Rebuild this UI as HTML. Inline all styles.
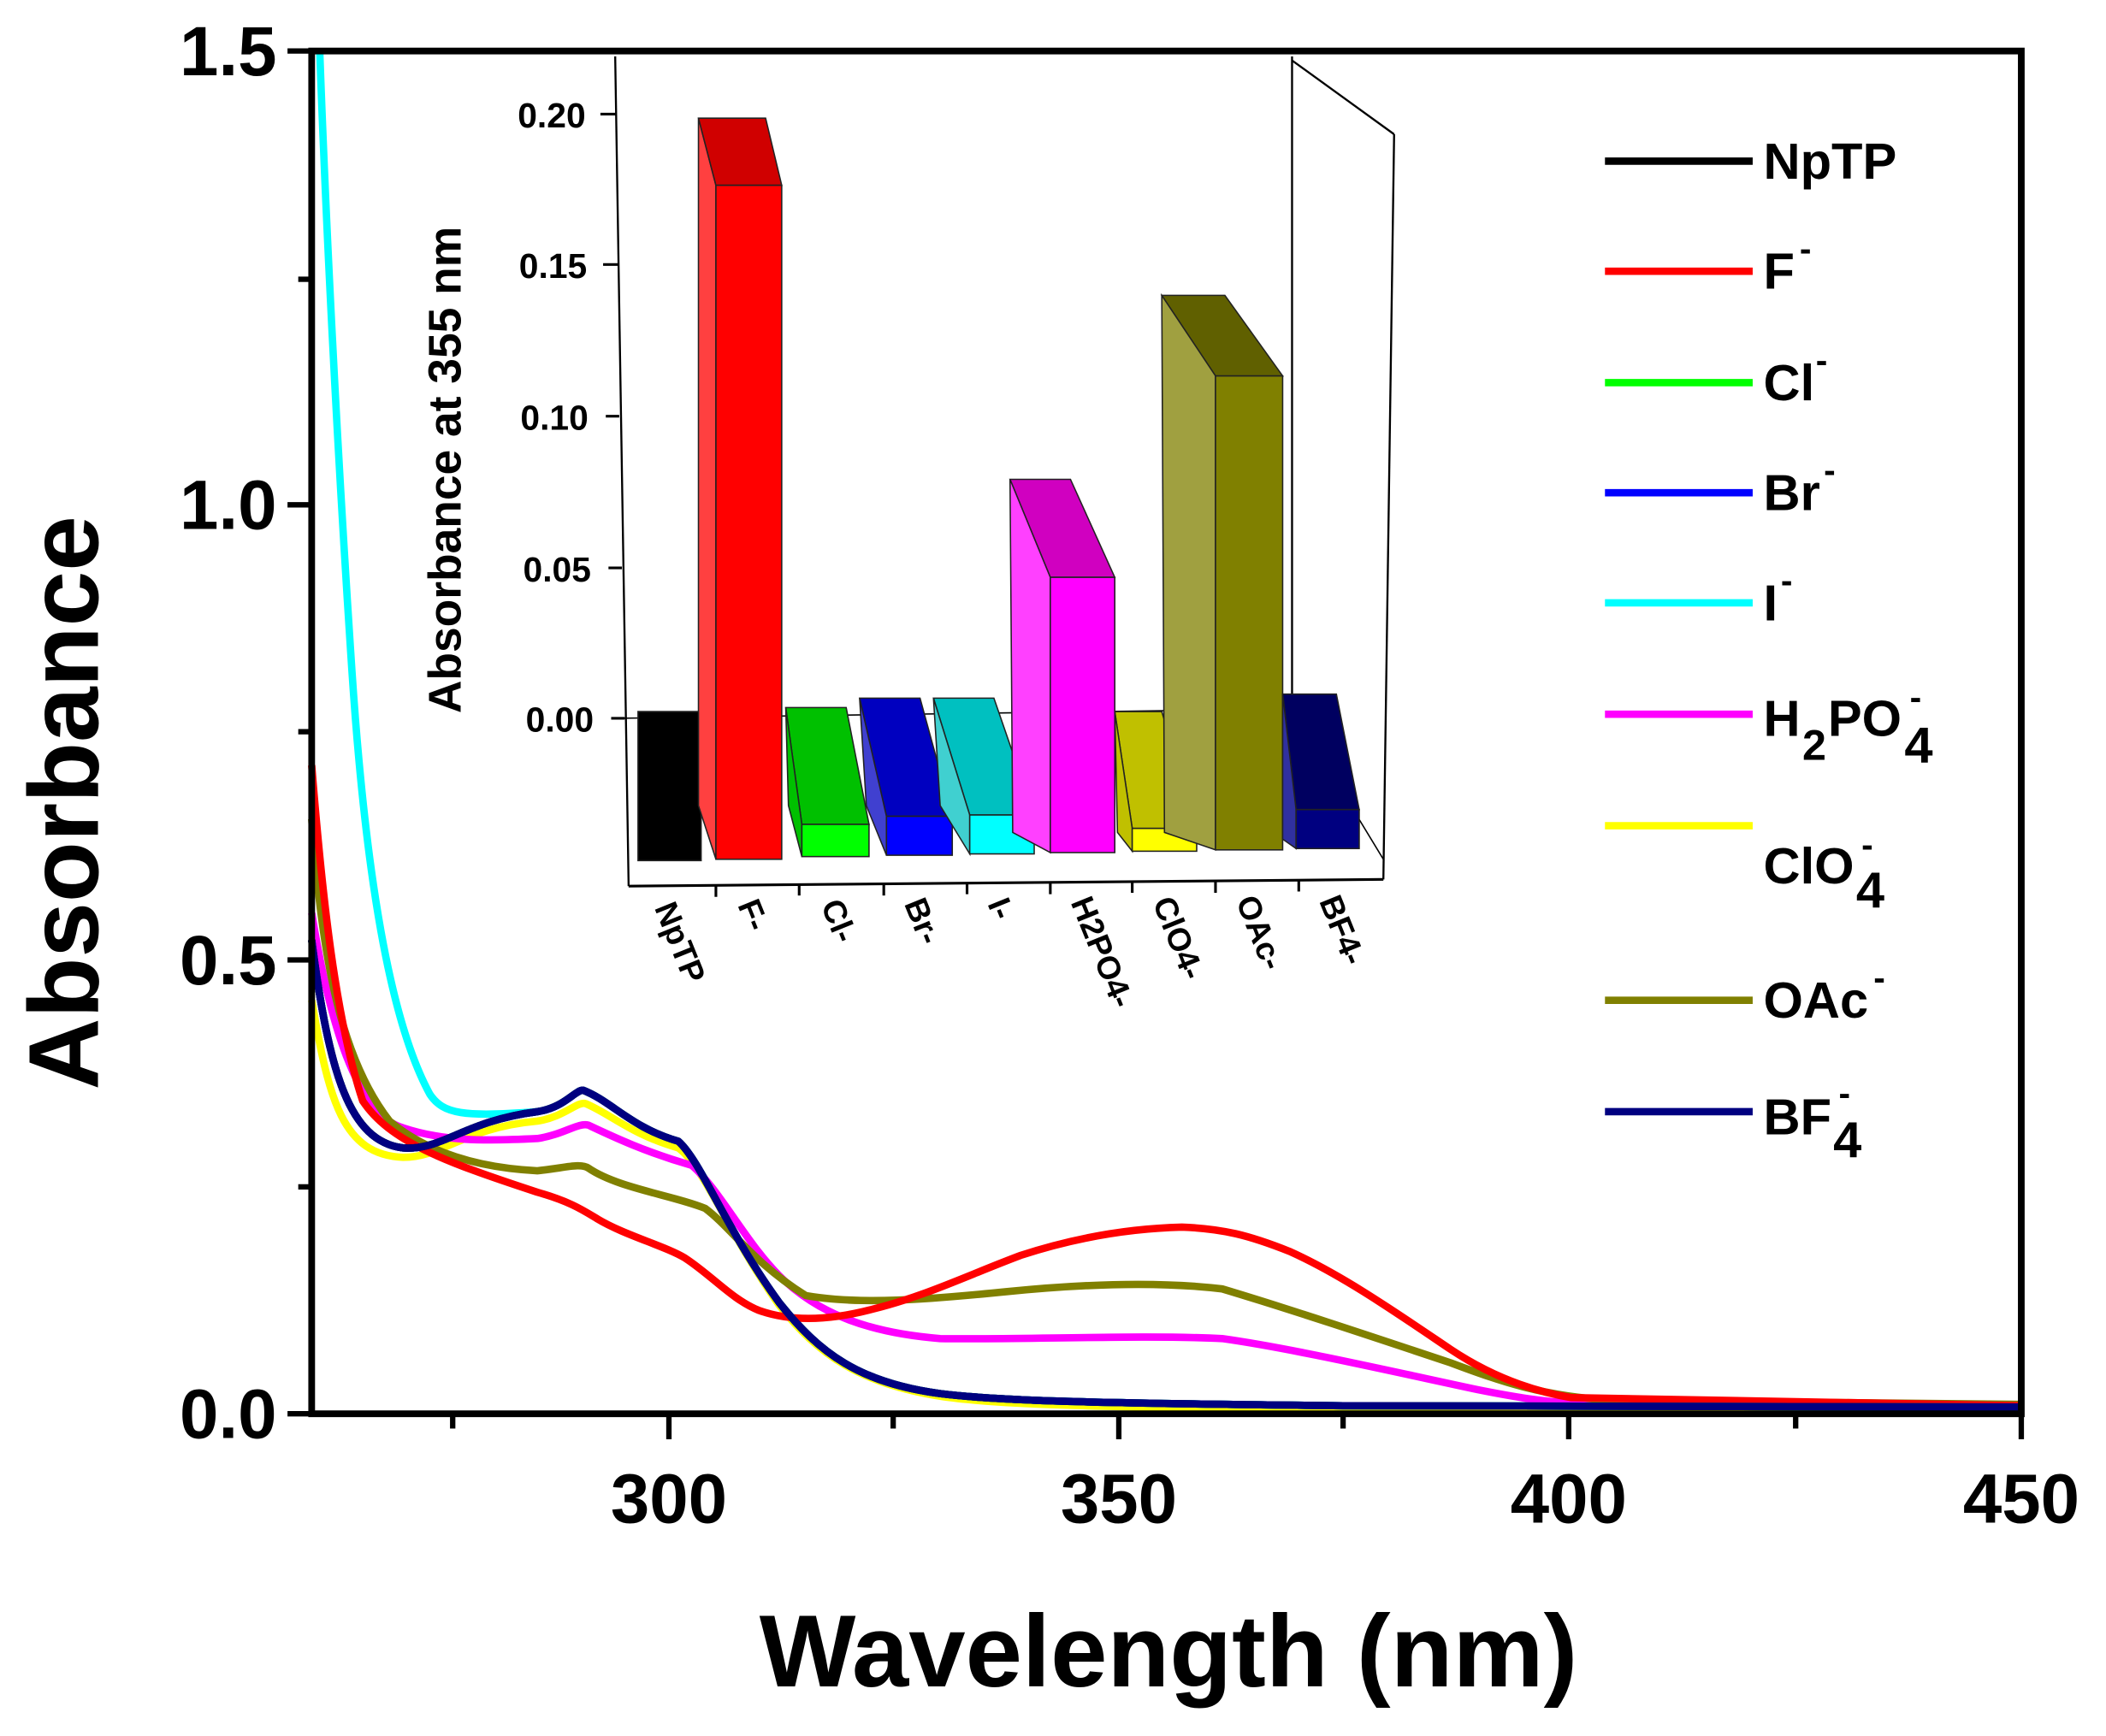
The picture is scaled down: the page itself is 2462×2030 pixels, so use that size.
<!DOCTYPE html>
<html><head><meta charset="utf-8"><style>html,body{margin:0;padding:0;background:#fff}svg{display:block}</style></head><body>
<svg width="2462" height="2030" viewBox="0 0 1568 1293" xmlns="http://www.w3.org/2000/svg" font-family="Liberation Sans, Arial, sans-serif" font-weight="bold">
<rect width="1568" height="1293" fill="#fff"/>
<!-- main curves -->
<g fill="none" stroke-width="5.5" stroke-linejoin="round">
<path stroke="#ffff00" d="M232,745 C245,820 255,860 300,862 C330,862 345,840 400,835 C420,832 430,820 436,822 C455,830 470,845 505,855 C525,870 540,915 580,972 C610,1010 640,1030 700,1040 C740,1046 800,1048 1000,1050 L1505,1051"/>
<path stroke="#00ff00" d="M232,700 C245,800 260,850 300,855 C330,857 345,835 400,828 C420,825 428,812 434,812 C455,820 470,840 505,850 C522,865 540,915 580,970 C610,1008 640,1030 700,1038 C740,1043 800,1045 1000,1047 L1505,1048"/>
<path stroke="#0000ff" d="M232,700 C245,800 260,850 300,855 C330,857 345,835 400,828 C420,825 428,812 434,812 C455,820 470,840 505,850 C522,865 540,915 580,970 C610,1008 640,1030 700,1038 C740,1043 800,1045 1000,1047 L1505,1048"/>
<path stroke="#ff00ff" d="M232,680 C245,760 265,830 300,840 C330,850 360,850 400,848 C420,845 430,836 438,838 C455,846 480,858 515,868 C535,885 555,925 580,950 C610,980 650,993 700,997 C760,998 850,994 910,997 C960,1004 1030,1020 1100,1035 C1130,1041 1150,1044 1170,1045 L1505,1048"/>
<path stroke="#808000" d="M232,610 C240,720 255,790 290,835 C320,860 360,870 400,872 C420,870 432,866 438,870 C460,885 500,890 525,900 C545,915 560,940 600,965 C640,972 690,968 750,962 C800,957 860,954 910,960 C960,975 1020,995 1080,1015 C1120,1030 1150,1040 1200,1043 L1505,1046"/>
<path stroke="#ff0000" d="M232,570 C240,670 250,760 270,820 C290,850 330,865 400,888 C425,895 435,902 445,908 C465,920 495,928 510,937 C530,950 545,968 565,976 C590,985 620,983 650,975 C690,965 720,950 760,935 C800,922 840,915 880,914 C910,915 930,920 960,932 C1000,950 1040,978 1080,1005 C1110,1025 1140,1036 1170,1041 L1505,1047"/>
<path stroke="#00ffff" d="M238,38 C242,150 250,320 262,500 C272,650 290,760 320,815 C330,830 345,832 400,828 C420,825 428,812 434,812 C455,820 470,840 505,850 C522,865 540,915 580,970 C610,1008 640,1030 700,1038 C740,1043 800,1045 1000,1047 L1505,1048"/>
<path stroke="#000000" d="M232,700 C245,800 260,850 300,855 C330,857 345,835 400,828 C420,825 428,812 434,812 C455,820 470,840 505,850 C522,865 540,915 580,970 C610,1008 640,1030 700,1038 C740,1043 800,1045 1000,1047 L1505,1048"/>
<path stroke="#000080" d="M232,700 C245,800 260,850 300,855 C330,857 345,835 400,828 C420,825 428,812 434,812 C455,820 470,840 505,850 C522,865 540,915 580,970 C610,1008 640,1030 700,1038 C740,1043 800,1045 1000,1047 L1505,1048"/>
</g>
<!-- inset frame -->
<g stroke="#000" stroke-width="1.5" fill="none">
<line x1="458" y1="42" x2="468" y2="660"/>
<line x1="962" y1="42" x2="962" y2="600"/>
<line x1="962" y1="45" x2="1038" y2="100"/>
<line x1="1038" y1="100" x2="1030" y2="655"/>
<line x1="468" y1="660" x2="1030" y2="655" stroke-width="2"/>
<line x1="460" y1="535" x2="962" y2="528" stroke-width="1"/>
<line x1="962" y1="528" x2="1030" y2="640" stroke-width="1"/>
</g>
<g stroke="#000" stroke-width="2">
<line x1="447" y1="85" x2="459" y2="85"/><line x1="449" y1="197" x2="460" y2="197"/><line x1="451" y1="310" x2="461" y2="310"/><line x1="453" y1="423" x2="463" y2="423"/><line x1="455" y1="535" x2="465" y2="535"/>
<line x1="533" y1="660" x2="533" y2="668"/><line x1="595" y1="659" x2="595" y2="667"/><line x1="658" y1="659" x2="658" y2="667"/><line x1="720" y1="658" x2="720" y2="666"/><line x1="782" y1="658" x2="782" y2="666"/><line x1="843" y1="657" x2="843" y2="665"/><line x1="905" y1="657" x2="905" y2="665"/><line x1="967" y1="656" x2="967" y2="664"/>
</g>
<g font-size="26" text-anchor="end">
<text x="436" y="95">0.20</text><text x="437" y="207">0.15</text><text x="438" y="320">0.10</text><text x="440" y="433">0.05</text><text x="442" y="545">0.00</text>
</g>
<text transform="translate(343,350) rotate(-90)" font-size="34" text-anchor="middle">Absorbance at 355 nm</text>
<!-- bars -->
<g stroke="#222" stroke-width="1">
<polygon fill="#000" points="475,530 522,530 522,641 475,641"/>
<polygon fill="#ff4040" points="520,88 533,138 533,640 520,600"/><polygon fill="#d00000" points="520,88 570,88 582,138 533,138"/><rect fill="#ff0000" x="533" y="138" width="49" height="502"/>
<polygon fill="#00c000" points="585,527 630,527 647,614 597,614"/><polygon fill="#00c000" points="585,527 597,614 597,638 587,600"/><rect fill="#00ff00" x="597" y="614" width="50" height="24"/>
<polygon fill="#0000c0" points="640,520 685,520 709,608 660,608"/><polygon fill="#4040d0" points="640,520 660,608 660,637 645,600"/><rect fill="#0000ff" x="660" y="608" width="49" height="29"/>
<polygon fill="#00c0c0" points="695,520 740,520 770,607 722,607"/><polygon fill="#40d0d0" points="695,520 722,607 722,636 700,600"/><rect fill="#00ffff" x="722" y="607" width="48" height="29"/>
<polygon fill="#d000c0" points="752,357 797,357 830,430 782,430"/><polygon fill="#ff40ff" points="752,357 782,430 782,635 754,620"/><rect fill="#ff00ff" x="782" y="430" width="48" height="205"/>
<polygon fill="#c0c000" points="830,530 865,530 891,617 843,617"/><polygon fill="#c0c000" points="830,530 843,617 843,634 832,620"/><rect fill="#ffff00" x="843" y="617" width="48" height="17"/>
<polygon fill="#606000" points="865,220 912,220 955,280 905,280"/><polygon fill="#a0a040" points="865,220 905,280 905,633 867,620"/><rect fill="#808000" x="905" y="280" width="50" height="353"/>
<polygon fill="#000060" points="955,517 995,517 1012,603 965,603"/><polygon fill="#3030a0" points="955,517 965,603 965,632 955,625"/><rect fill="#000080" x="965" y="603" width="47" height="29"/>
</g>
<g font-size="24">
<text transform="translate(487,676) rotate(68)">NpTP</text>
<text transform="translate(549,674) rotate(68)">F-</text>
<text transform="translate(611,674) rotate(68)">Cl-</text>
<text transform="translate(673,673) rotate(68)">Br-</text>
<text transform="translate(735,673) rotate(68)">I-</text>
<text transform="translate(797,672) rotate(68)">H2PO4-</text>
<text transform="translate(858,672) rotate(68)">ClO4-</text>
<text transform="translate(920,671) rotate(68)">OAc-</text>
<text transform="translate(982,671) rotate(68)">BF4-</text>
</g>
<!-- main axes -->
<rect x="232" y="38" width="1273" height="1015" fill="none" stroke="#000" stroke-width="5"/>
<g stroke="#000" stroke-width="4">
<line x1="214" y1="38" x2="232" y2="38"/><line x1="214" y1="376" x2="232" y2="376"/><line x1="214" y1="715" x2="232" y2="715"/><line x1="214" y1="1053" x2="232" y2="1053"/>
<line x1="222" y1="208" x2="232" y2="208"/><line x1="222" y1="545" x2="232" y2="545"/><line x1="222" y1="884" x2="232" y2="884"/>
<line x1="498" y1="1053" x2="498" y2="1072"/><line x1="833" y1="1053" x2="833" y2="1072"/><line x1="1168" y1="1053" x2="1168" y2="1072"/><line x1="1505" y1="1053" x2="1505" y2="1072"/>
<line x1="337" y1="1053" x2="337" y2="1064"/><line x1="665" y1="1053" x2="665" y2="1064"/><line x1="1000" y1="1053" x2="1000" y2="1064"/><line x1="1337" y1="1053" x2="1337" y2="1064"/>
</g>
<g font-size="52" text-anchor="end">
<text x="206" y="56">1.5</text><text x="206" y="394">1.0</text><text x="206" y="733">0.5</text><text x="206" y="1071">0.0</text>
</g>
<g font-size="52" text-anchor="middle">
<text x="498" y="1134">300</text><text x="833" y="1134">350</text><text x="1168" y="1134">400</text><text x="1505" y="1134">450</text>
</g>
<text x="870" y="1256" font-size="76" text-anchor="middle">Wavelength (nm)</text>
<text transform="translate(73,598) rotate(-90)" font-size="74" text-anchor="middle">Absorbance</text>
<!-- legend -->
<g stroke-width="5.5">
<line x1="1195" y1="120" x2="1305" y2="120" stroke="#000"/>
<line x1="1195" y1="202" x2="1305" y2="202" stroke="#ff0000"/>
<line x1="1195" y1="285" x2="1305" y2="285" stroke="#00ff00"/>
<line x1="1195" y1="367" x2="1305" y2="367" stroke="#0000ff"/>
<line x1="1195" y1="449" x2="1305" y2="449" stroke="#00ffff"/>
<line x1="1195" y1="532" x2="1305" y2="532" stroke="#ff00ff"/>
<line x1="1195" y1="615" x2="1305" y2="615" stroke="#ffff00"/>
<line x1="1195" y1="745" x2="1305" y2="745" stroke="#808000"/>
<line x1="1195" y1="828" x2="1305" y2="828" stroke="#000080"/>
</g>
<g font-size="38">
<text x="1313" y="133">NpTP</text>
<text x="1313" y="215">F</text><text x="1340" y="194" font-size="26">-</text>
<text x="1313" y="298">Cl</text><text x="1352" y="277" font-size="26">-</text>
<text x="1313" y="380">Br</text><text x="1358" y="359" font-size="26">-</text>
<text x="1313" y="462">I</text><text x="1326" y="441" font-size="26">-</text>
<text x="1313" y="548">H</text><text x="1342" y="566" font-size="32">2</text><text x="1361" y="548">PO</text><text x="1422" y="528" font-size="26">-</text><text x="1418" y="568">4</text>
<text x="1313" y="658">ClO</text><text x="1386" y="638" font-size="26">-</text><text x="1382" y="676">4</text>
<text x="1313" y="758">OAc</text><text x="1395" y="737" font-size="26">-</text>
<text x="1313" y="845">BF</text><text x="1369" y="823" font-size="26">-</text><text x="1365" y="862">4</text>
</g>
</svg>
</body></html>
